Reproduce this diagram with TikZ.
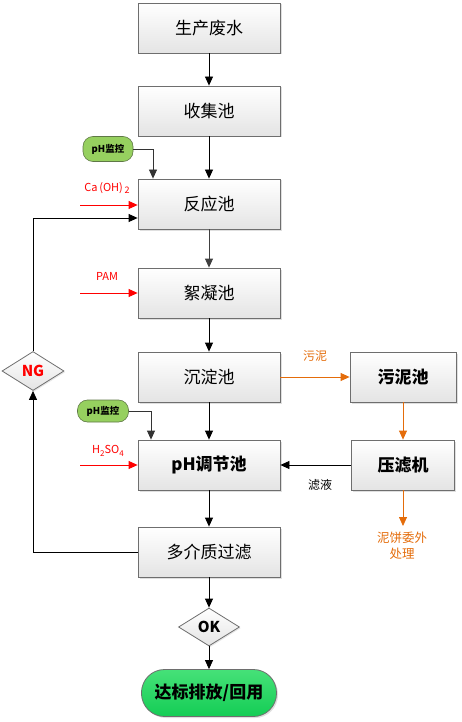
\documentclass[tikz,border=0pt]{standalone}
\usepackage{fontspec}
\setmainfont{Noto Sans CJK SC}
\usetikzlibrary{shapes.geometric,arrows.meta,shadows}
\definecolor{boxline}{RGB}{110,110,110}
\definecolor{boxbot}{RGB}{228,228,228}
\definecolor{orng}{RGB}{228,108,10}
\definecolor{pillgreen}{RGB}{150,208,95}
\definecolor{pillline}{RGB}{95,120,70}
\definecolor{okgreen}{RGB}{20,205,85}
\definecolor{okgreenlight}{RGB}{70,225,120}
\begin{document}
\begin{tikzpicture}[x=1pt,y=-1pt,
  box/.style={draw=boxline,line width=0.8pt,top color=white,bottom color=boxbot,
    minimum width=142pt,minimum height=50pt,inner sep=0pt,
    font=\fontsize{17}{17}\selectfont,
    drop shadow={shadow xshift=1.5pt,shadow yshift=-1.5pt,opacity=0.25}},
  sbox/.style={box,minimum width=104pt},
  pill/.style={draw=pillline,line width=0.6pt,fill=pillgreen,rounded corners=10pt,
    inner sep=0pt,font=\fontsize{9.5}{10}\selectfont\bfseries},
  dia/.style={diamond,draw=boxline,line width=0.8pt,top color=white,bottom color=boxbot,
    inner sep=0pt,minimum width=61pt,minimum height=38pt,
    drop shadow={shadow xshift=1.2pt,shadow yshift=-1.2pt,opacity=0.2}},
  arr/.style={-{Triangle[length=9pt,width=8pt]},line width=0.8pt},
  lbl/.style={font=\fontsize{12}{13}\selectfont,inner sep=0pt}
]
\useasboundingbox (0,0) rectangle (461,722);
% main column
\node[box] (a1) at (209,28) {生产废水};
\node[box] (a2) at (209,111) {收集池};
\node[box] (a3) at (209,204) {反应池};
\node[box] (a4) at (209,293) {絮凝池};
\node[box] (a5) at (209,377) {沉淀池};
\node[box] (a6) at (209,465) {\bfseries pH调节池};
\node[box] (a7) at (209,552) {多介质过滤};
\node[dia] (ok) at (209,627) {\fontsize{15}{15}\selectfont\bfseries OK};
\node[draw=boxline,line width=0.8pt,top color=okgreenlight,bottom color=okgreen,
  rounded corners=23pt,minimum width=135pt,minimum height=47pt,inner sep=0pt,
  font=\fontsize{17}{17}\selectfont\bfseries,
  drop shadow={shadow xshift=1.5pt,shadow yshift=-1.5pt,opacity=0.25}] (end) at (209,693) {达标排放/回用};
% right column
\node[sbox,minimum width=106pt] (s1) at (403,377) {\bfseries 污泥池};
\node[sbox,minimum width=103pt] (s2) at (403,465) {\bfseries 压滤机};
% NG
\node[dia,minimum width=62pt,minimum height=39pt] (ng) at (33,371) {\color{red}\fontsize{15}{15}\selectfont\bfseries NG};
% pH monitors
\node[pill,minimum width=50pt,minimum height=25pt] (p1) at (108,149) {pH监控};
\node[pill,minimum width=51pt,minimum height=22pt] (p2) at (103,411) {pH监控};
% main arrows
\draw[arr] (a1) -- (a2);
\draw[arr] (a2) -- (a3);
\draw[arr,draw=black!75,-{Triangle[length=9pt,width=8pt,fill=black!75]}] (a3) -- (a4);
\draw[arr] (a4) -- (a5);
\draw[arr] (a5) -- (a6);
\draw[arr] (a6) -- (a7);
\draw[arr] (a7) -- (ok);
\draw[arr] (ok) -- (end);
% monitor lines
\draw[arr,draw=black!80] (p1.east) -| (a3.north west -| 153,0);
\draw[arr,draw=black!80] (p2.east) -| (a6.north west -| 151,0);
% chemical inputs
\coordinate (c1) at (80,205);
\coordinate (c2) at (80,293);
\coordinate (c3) at (80,465);
\draw[arr,red] (c1) -- (c1 -| a3.west);
\draw[arr,red] (c2) -- (c2 -| a4.west);
\draw[arr,red] (c3) -- (c3 -| a6.west);
\node[lbl,red,font=\fontsize{11}{12}\selectfont] (t1) at (107,188) {Ca\,(OH)\,\raisebox{-0.3ex}{\fontsize{9}{9}\selectfont 2}};
\node[lbl,red,font=\fontsize{11}{12}\selectfont] (t2) at (107,276) {PAM};
\node[lbl,red,font=\fontsize{11}{12}\selectfont] (t3) at (108,451) {H\raisebox{-0.4ex}{\fontsize{8}{8}\selectfont 2}SO\raisebox{-0.4ex}{\fontsize{8}{8}\selectfont 4}};
% NG loop
\draw[arr] (a7.west) -| (ng.south);
\coordinate (n1) at (33,218);
\draw[arr] (ng.north) -- (n1) -- (n1 -| a3.west);
% sludge
\draw[arr,orng] (a5.east) -- (s1.west);
\node[lbl,orng] (t4) at (315,356) {污泥};
\draw[arr,orng] (s1) -- (s2);
\coordinate (cake) at (403,526);
\draw[arr,orng] (s2.south) -- (cake);
\node[lbl,orng,align=center,font=\fontsize{12.5}{16}\selectfont] (t5) at (402,546) {泥饼委外\\处理};
\draw[arr] (s2.west) -- (a6.east);
\node[lbl] (t6) at (320,485) {滤液};
\end{tikzpicture}
\end{document}
